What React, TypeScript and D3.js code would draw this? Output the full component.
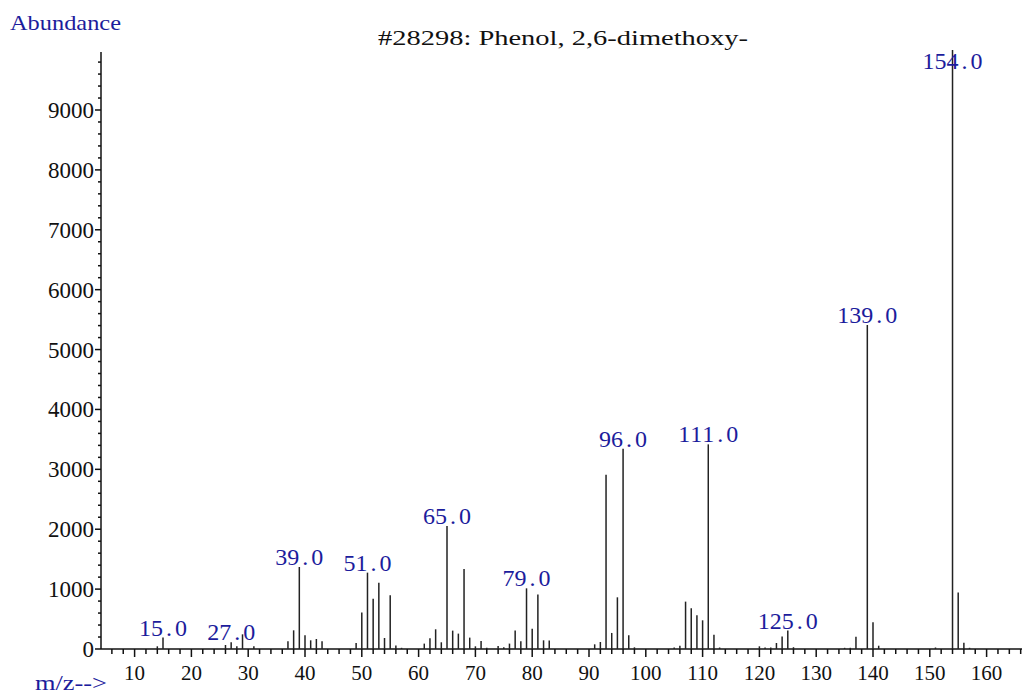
import React from "react";
import * as d3 from "d3";

const title = "#28298: Phenol, 2,6-dimethoxy-";
const mz = [14, 15, 26, 27, 28, 29, 31, 37, 38, 39, 40, 41, 42, 43, 49, 50, 51, 52, 53, 54, 55, 56, 57, 61, 62, 63, 64, 65, 66, 67, 68, 69, 70, 71, 72, 74, 75, 76, 77, 78, 79, 80, 81, 82, 83, 91, 92, 93, 94, 95, 96, 97, 98, 105, 106, 107, 108, 109, 110, 111, 112, 113, 120, 121, 122, 123, 124, 125, 126, 135, 136, 137, 139, 140, 141, 151, 154, 155, 156, 157];
const abundance = [45, 190, 67, 112, 45, 245, 45, 128, 312, 1369, 228, 145, 167, 128, 100, 608, 1275, 841, 1108, 184, 896, 57, 20, 90, 179, 329, 112, 2053, 307, 257, 1336, 190, 45, 134, 20, 50, 30, 90, 307, 128, 1013, 340, 908, 145, 140, 78, 117, 2911, 268, 863, 3345, 228, 28, 25, 56, 791, 679, 562, 479, 3417, 240, 25, 45, 25, 25, 100, 207, 307, 30, 20, 20, 205, 5410, 445, 55, 25, 10000, 945, 105, 20];
const labeledPeaks = [15, 27, 39, 51, 65, 79, 96, 111, 125, 139, 154];
const xTicks = [10, 20, 30, 40, 50, 60, 70, 80, 90, 100, 110, 120, 130, 140, 150, 160];
const yTicks = [0, 1000, 2000, 3000, 4000, 5000, 6000, 7000, 8000, 9000];

const BLUE = "#1c1c9c";
const SERIF = "Liberation Serif, DejaVu Serif, serif";
const fontStyle = { fontFamily: SERIF };

function MonoText(props: { x: number; y: number; text: string; cell: number; size: number; fill: string }) {
  const { x, y, text, cell, size, fill } = props;
  const chars = Array.from(text);
  return (
    <text y={y} fill={fill} style={fontStyle} fontSize={size} textAnchor="middle">
      {chars.map((c, i) => (
        <tspan key={i} x={x + cell * (i + 0.5)}>{c}</tspan>
      ))}
    </text>
  );
}

export default function App() {
  const W = 1022, H = 694;
  const x0 = 101, x1 = 1022, yTop = 52, yBase = 649;
  const x = d3.scaleLinear().domain([10, 160]).range([134.6, 986.6]);
  const y = d3.scaleLinear().domain([0, 9000]).range([yBase, 110]);
  const yMax = y.invert(yTop);
  const xMin = Math.ceil(x.invert(x0));
  const xMax = Math.floor(x.invert(x1));
  const xMinor = d3.range(xMin, xMax + 1).filter((v) => v % 2 === 0 && v % 10 !== 0);
  const yMinor = d3.range(0, yMax, 200).filter((v) => v % 1000 !== 0);

  const peaks = mz.map((m, i) => ({ m, a: abundance[i] }));

  return (
    <svg width={W} height={H} style={{ position: "fixed", left: 0, top: 0, background: "#fff" }}>
      <text x={10} y={30} fill={BLUE} style={fontStyle} fontSize={22} textLength={111} lengthAdjust="spacingAndGlyphs">Abundance</text>
      <text x={378} y={45} fill="#111" style={fontStyle} fontSize={22} textLength={370} lengthAdjust="spacingAndGlyphs">{title}</text>
      <text x={35} y={690} fill={BLUE} style={fontStyle} fontSize={22} textLength={72} lengthAdjust="spacingAndGlyphs">m/z--&gt;</text>

      {/* y axis */}
      <line x1={x0} x2={x0} y1={yTop} y2={yBase} stroke="#111" strokeWidth={1.5} />
      {yTicks.map((t) => (
        <g key={"yt" + t}>
          <line x1={x0 - 6} x2={x0} y1={y(t)} y2={y(t)} stroke="#111" strokeWidth={1.5} />
          <text x={94} y={y(t) + 8} textAnchor="end" style={fontStyle} fontSize={23} fill="#111">{t}</text>
        </g>
      ))}
      {yMinor.map((t) => (
        <line key={"ym" + t} x1={x0 - 3} x2={x0} y1={y(t)} y2={y(t)} stroke="#111" strokeWidth={1.5} />
      ))}

      {/* x axis */}
      <line x1={x0} x2={x1} y1={yBase} y2={yBase} stroke="#111" strokeWidth={1.5} />
      {xTicks.map((t) => (
        <g key={"xt" + t}>
          <line x1={x(t)} x2={x(t)} y1={yBase} y2={yBase + 8} stroke="#111" strokeWidth={1.5} />
          <text x={x(t)} y={680} textAnchor="middle" style={fontStyle} fontSize={21} fill="#111">{t}</text>
        </g>
      ))}
      {xMinor.map((t) => (
        <line key={"xm" + t} x1={x(t)} x2={x(t)} y1={yBase} y2={yBase + 5} stroke="#111" strokeWidth={1.5} />
      ))}

      {/* peaks */}
      {peaks.map((p) => (
        <line key={"p" + p.m} x1={x(p.m)} x2={x(p.m)} y1={yBase} y2={y(p.a)} stroke="#222" strokeWidth={1.5} />
      ))}
      {peaks.filter((p) => labeledPeaks.includes(p.m)).map((p) => {
        const s = p.m.toFixed(1);
        const cell = 12;
        const w = s.length * cell;
        const by = Math.max(y(p.a) - 2, 69);
        return <MonoText key={"l" + p.m} x={x(p.m) - w / 2} y={by} text={s} cell={cell} size={24} fill={BLUE} />;
      })}
    </svg>
  );
}
